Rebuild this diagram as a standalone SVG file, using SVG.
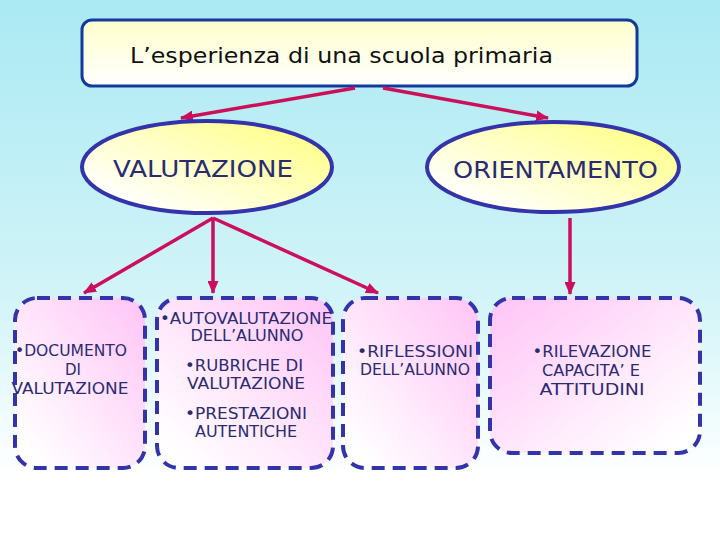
<svg xmlns="http://www.w3.org/2000/svg" width="720" height="540" viewBox="0 0 720 540">
  <defs>
    <linearGradient id="bg" x1="0" y1="0" x2="0" y2="1">
      <stop offset="0" stop-color="#abe9f3"/>
      <stop offset="0.55" stop-color="#d2f4f8"/>
      <stop offset="0.88" stop-color="#ffffff"/>
    </linearGradient>
    <linearGradient id="titleFill" x1="0" y1="0" x2="0" y2="1">
      <stop offset="0" stop-color="#ffffcc"/>
      <stop offset="1" stop-color="#ffffff"/>
    </linearGradient>
    <linearGradient id="ellFill" x1="1" y1="0.2" x2="0.1" y2="1">
      <stop offset="0" stop-color="#ffff88"/>
      <stop offset="0.9" stop-color="#ffffff"/>
    </linearGradient>
    <linearGradient id="pinkA" x1="1" y1="0" x2="0" y2="1">
      <stop offset="0" stop-color="#ffc4f6"/>
      <stop offset="0.9" stop-color="#ffffff"/>
    </linearGradient>
    <linearGradient id="pinkB" x1="0" y1="0" x2="1" y2="1">
      <stop offset="0" stop-color="#ffc4f6"/>
      <stop offset="0.9" stop-color="#ffffff"/>
    </linearGradient>
    <marker id="arrow" markerUnits="userSpaceOnUse" markerWidth="13" markerHeight="11" refX="12" refY="5.5" orient="auto">
      <path d="M0,0 L13,5.5 L0,11 z" fill="#cc0f5c"/>
    </marker>
  </defs>
  <style>
    .conn { stroke: #cc0f5c; stroke-width: 3.5; fill: none; marker-end: url(#arrow); }
    .ell { stroke: #3333aa; stroke-width: 4; fill: url(#ellFill); }
    .box { stroke: #3333aa; stroke-width: 4; stroke-dasharray: 13 8; }
    .ellText { font-family: "DejaVu Sans", Verdana, sans-serif; font-size: 23px; fill: #2b2b72; }
    .boxText { font-family: "DejaVu Sans", Verdana, sans-serif; font-size: 15px; fill: #2b2b72; text-anchor: middle; }
  </style>

  <rect x="0" y="0" width="720" height="540" fill="url(#bg)"/>

  <g id="title">
    <rect x="82" y="20" width="555" height="66" rx="10" ry="10" fill="url(#titleFill)" stroke="#123a9c" stroke-width="3"/>
    <text x="130" y="63" font-family="'DejaVu Sans', Verdana, sans-serif" font-size="21" fill="#111111" textLength="423" lengthAdjust="spacingAndGlyphs">L’esperienza di una scuola primaria</text>
  </g>

  <g id="connectors">
    <line class="conn" x1="355" y1="88" x2="181" y2="118"/>
    <line class="conn" x1="383" y1="88" x2="548" y2="118"/>
    <line class="conn" x1="213" y1="218" x2="84" y2="293"/>
    <line class="conn" x1="213" y1="218" x2="213" y2="293"/>
    <line class="conn" x1="213" y1="218" x2="378" y2="293"/>
    <line class="conn" x1="570" y1="218" x2="570" y2="294"/>
  </g>

  <g id="valutazione">
    <ellipse class="ell" cx="207" cy="167" rx="125" ry="46"/>
    <text class="ellText" x="113" y="177" textLength="180" lengthAdjust="spacingAndGlyphs">VALUTAZIONE</text>
  </g>

  <g id="orientamento">
    <ellipse class="ell" cx="553" cy="167" rx="126" ry="45"/>
    <text class="ellText" x="453" y="178" textLength="205" lengthAdjust="spacingAndGlyphs">ORIENTAMENTO</text>
  </g>

  <g id="documento">
    <rect class="box" x="15" y="298" width="130" height="170" rx="22" ry="22" fill="url(#pinkA)"/>
    <text class="boxText" x="71" y="356" textLength="112" lengthAdjust="spacingAndGlyphs">•DOCUMENTO</text>
    <text class="boxText" x="73" y="375">DI</text>
    <text class="boxText" x="70" y="394" textLength="117" lengthAdjust="spacingAndGlyphs">VALUTAZIONE</text>
  </g>

  <g id="autovalutazione">
    <rect class="box" x="157" y="298" width="176" height="170" rx="22" ry="22" fill="url(#pinkA)"/>
    <text class="boxText" x="246" y="324" textLength="172" lengthAdjust="spacingAndGlyphs">•AUTOVALUTAZIONE</text>
    <text class="boxText" x="247" y="341" textLength="113" lengthAdjust="spacingAndGlyphs">DELL’ALUNNO</text>
    <text class="boxText" x="244" y="371" textLength="118" lengthAdjust="spacingAndGlyphs">•RUBRICHE DI</text>
    <text class="boxText" x="246" y="389" textLength="118" lengthAdjust="spacingAndGlyphs">VALUTAZIONE</text>
    <text class="boxText" x="246" y="419" textLength="122" lengthAdjust="spacingAndGlyphs">•PRESTAZIONI</text>
    <text class="boxText" x="246" y="437" textLength="102" lengthAdjust="spacingAndGlyphs">AUTENTICHE</text>
  </g>

  <g id="riflessioni">
    <rect class="box" x="343" y="298" width="135" height="170" rx="22" ry="22" fill="url(#pinkA)"/>
    <text class="boxText" x="415" y="357" textLength="116" lengthAdjust="spacingAndGlyphs">•RIFLESSIONI</text>
    <text class="boxText" x="415" y="375" textLength="110" lengthAdjust="spacingAndGlyphs">DELL’ALUNNO</text>
  </g>

  <g id="rilevazione">
    <rect class="box" x="490" y="298" width="210" height="155" rx="22" ry="22" fill="url(#pinkB)"/>
    <text class="boxText" x="592" y="357" textLength="119" lengthAdjust="spacingAndGlyphs">•RILEVAZIONE</text>
    <text class="boxText" x="591" y="376" textLength="98" lengthAdjust="spacingAndGlyphs">CAPACITA’ E</text>
    <text class="boxText" x="592" y="395" textLength="105" lengthAdjust="spacingAndGlyphs">ATTITUDINI</text>
  </g>
</svg>
